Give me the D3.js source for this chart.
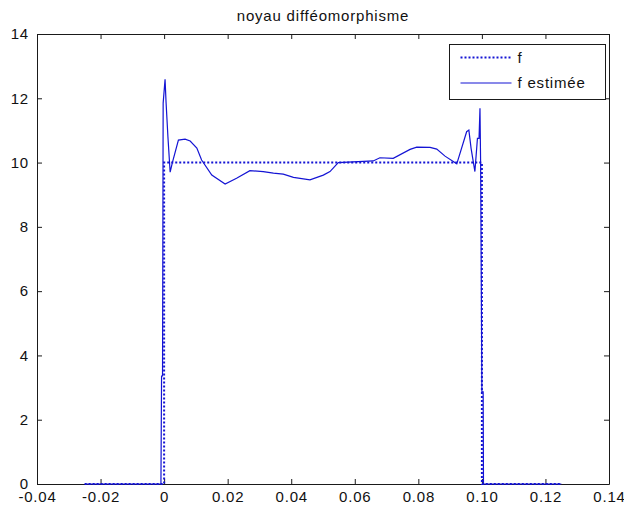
<!DOCTYPE html>
<html>
<head>
<meta charset="utf-8">
<script src="https://cdn.jsdelivr.net/npm/d3@7"></script>
<style>
  html, body { margin: 0; padding: 0; background: #fff; }
  svg { display: block; }
  text { font-family: "Liberation Sans", Arial, sans-serif; }
</style>
</head>
<body>
<svg id="chart" width="624" height="511"></svg>
<script>
// Axis ticks
const xTicks = [-0.04, -0.02, 0, 0.02, 0.04, 0.06, 0.08, 0.1, 0.12, 0.14];
const yTicks = [0, 2, 4, 6, 8, 10, 12, 14];

// True density f: indicator of [0, 0.1] scaled to height 10
const fX = [-0.025, 0, 0, 0.1, 0.1, 0.125];
const fY = [0, 0, 10, 10, 0, 0];

// Kernel estimate of f (diffeomorphism kernel)
const estX = [-0.025, -0.001, -0.0008, -0.0005, -0.0003, 0.0003, 0.0006, 0.0012, 0.0019, 0.0026,
  0.0045, 0.0066, 0.0082, 0.0103, 0.0118, 0.0150, 0.0192, 0.0228, 0.0270, 0.0312,
  0.0344, 0.0375, 0.0407, 0.0459, 0.0501, 0.0522, 0.0548, 0.0658, 0.0679, 0.0721,
  0.0774, 0.0795, 0.0837, 0.0858, 0.0884, 0.0921, 0.0952, 0.0959, 0.0966, 0.0978,
  0.0986, 0.0991, 0.0994, 0.0996, 0.1000, 0.1004, 0.1005, 0.125];
const estY = [0, 0, 3.36, 3.36, 11.85, 12.59, 11.9, 10.8, 9.70, 10.0,
  10.7, 10.73, 10.67, 10.45, 10.08, 9.61, 9.33, 9.51, 9.75, 9.72,
  9.67, 9.64, 9.54, 9.46, 9.61, 9.72, 10.0, 10.05, 10.15, 10.13,
  10.41, 10.48, 10.47, 10.42, 10.2, 9.96, 10.96, 11.01, 10.44, 9.72,
  10.75, 10.75, 11.69, 10.0, 2.87, 2.87, 0, 0];

const titleText = "noyau difféomorphisme";
const legendLabels = ["f", "f estimée"];
const lineColor = "#1414d4";

const svg = d3.select("#chart");
const margin = { left: 37, right: 15, top: 34, bottom: 27 };
const W = 624, H = 511;

const x = d3.scaleLinear().domain([-0.04, 0.14]).range([margin.left, W - margin.right]);
const y = d3.scaleLinear().domain([0, 14]).range([H - margin.bottom, margin.top]);

const fmtX = d => (Math.abs(d) < 1e-12 ? "0" : d.toFixed(2));
const fontSize = 15;
const spacing = "0.8px";

// Axes with inward ticks on all four sides
function styleAxis(g) {
  g.selectAll("path.domain").attr("stroke", "#1a1a1a").attr("stroke-width", 1);
  g.selectAll(".tick line").attr("stroke", "#1a1a1a");
  g.selectAll("text")
    .attr("fill", "#111")
    .style("font-size", fontSize + "px")
    .style("font-family", "'Liberation Sans', Arial, sans-serif")
    .style("letter-spacing", spacing);
}

svg.append("g")
  .attr("transform", `translate(0,${y(0)})`)
  .call(d3.axisBottom(x).tickValues(xTicks).tickFormat(fmtX).tickSizeInner(-5).tickSizeOuter(0).tickPadding(7))
  .call(styleAxis);

svg.append("g")
  .attr("transform", `translate(0,${y(14)})`)
  .call(d3.axisTop(x).tickValues(xTicks).tickFormat("").tickSizeInner(-5).tickSizeOuter(0))
  .call(styleAxis);

svg.append("g")
  .attr("transform", `translate(${x(-0.04)},0)`)
  .call(d3.axisLeft(y).tickValues(yTicks).tickFormat(d3.format("d")).tickSizeInner(-5).tickSizeOuter(0).tickPadding(8))
  .call(styleAxis);

svg.append("g")
  .attr("transform", `translate(${x(0.14)},0)`)
  .call(d3.axisRight(y).tickValues(yTicks).tickFormat("").tickSizeInner(-5).tickSizeOuter(0))
  .call(styleAxis);

// Curves, drawn over the axis box
const line = d3.line().x(d => x(d[0])).y(d => y(d[1]));

svg.append("path")
  .datum(estX.map((v, i) => [v, estY[i]]))
  .attr("d", line)
  .attr("fill", "none")
  .attr("stroke", lineColor)
  .attr("stroke-width", 1.2);

svg.append("path")
  .datum(fX.map((v, i) => [v, fY[i]]))
  .attr("d", line)
  .attr("fill", "none")
  .attr("stroke", lineColor)
  .attr("stroke-width", 2)
  .attr("stroke-dasharray", "2,2");

// Title
svg.append("text")
  .attr("x", (x(-0.04) + x(0.14)) / 2)
  .attr("y", 21)
  .attr("text-anchor", "middle")
  .attr("fill", "#111")
  .style("font-size", fontSize + "px")
  .style("letter-spacing", spacing)
  .text(titleText);

// Legend
const lg = svg.append("g").attr("transform", "translate(449.5,44.5)");
lg.append("rect")
  .attr("width", 156).attr("height", 55)
  .attr("fill", "#fff").attr("stroke", "#1a1a1a").attr("stroke-width", 1);

legendLabels.forEach((lab, i) => {
  const yy = 13 + i * 25.5;
  lg.append("line")
    .attr("x1", 11).attr("x2", 62).attr("y1", yy).attr("y2", yy)
    .attr("stroke", lineColor)
    .attr("stroke-width", i === 0 ? 2 : 1.2)
    .attr("stroke-dasharray", i === 0 ? "2,2" : null);
  lg.append("text")
    .attr("x", 68).attr("y", yy)
    .attr("dy", "0.35em")
    .attr("fill", "#111")
    .style("font-size", fontSize + "px")
    .style("letter-spacing", spacing)
    .text(lab);
});
</script>
</body>
</html>
